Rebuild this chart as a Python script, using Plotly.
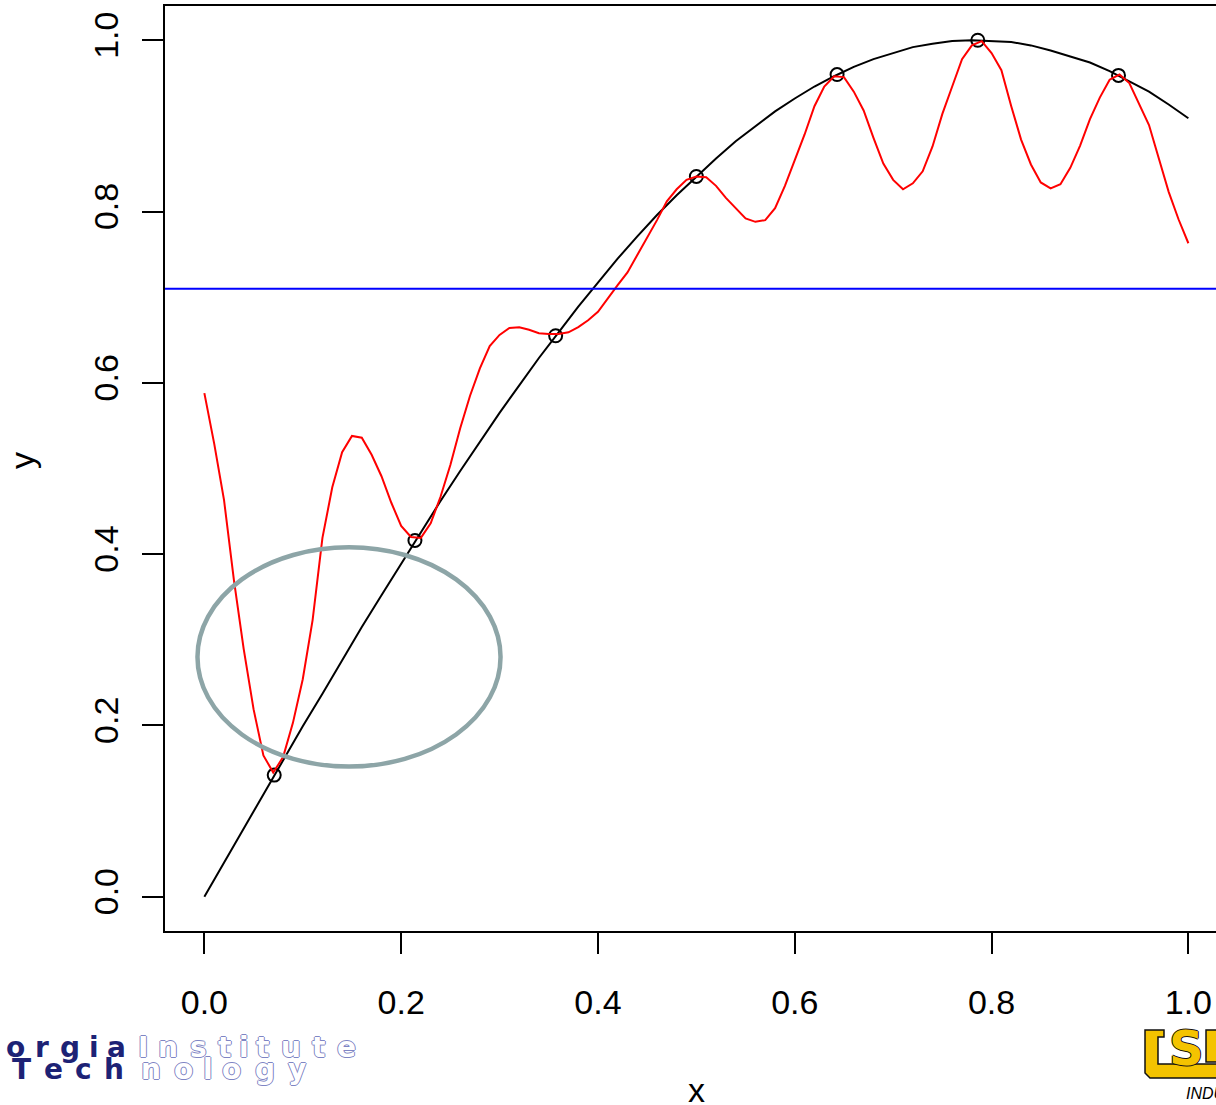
import numpy as np
import plotly.graph_objects as go

# ---- data -------------------------------------------------------------
# true response curve, sampled every 0.02
curve_x = np.round(np.linspace(0, 1, 51), 2)
curve_y = [0.000, 0.040, 0.080, 0.120, 0.159, 0.199, 0.237, 0.276, 0.315, 0.352,
           0.389, 0.426, 0.462, 0.497, 0.531, 0.565, 0.597, 0.629, 0.659, 0.689,
           0.717, 0.745, 0.771, 0.796, 0.819, 0.841, 0.862, 0.882, 0.900, 0.917,
           0.932, 0.946, 0.958, 0.969, 0.978, 0.985, 0.992, 0.996, 0.999, 1.000,
           0.999, 0.998, 0.994, 0.988, 0.981, 0.974, 0.964, 0.952, 0.940, 0.925,
           0.909]

# design points
design_x = [0.071, 0.214, 0.357, 0.500, 0.643, 0.786, 0.929]
design_y = [0.142, 0.416, 0.655, 0.841, 0.960, 1.000, 0.959]

# predictor, evaluated every 0.01
pred_x = np.round(np.linspace(0, 1, 101), 2)
pred_y = [0.588, 0.529, 0.463, 0.370, 0.289, 0.219, 0.165, 0.145, 0.163, 0.203,
          0.254, 0.323, 0.419, 0.478, 0.519, 0.538, 0.536, 0.516, 0.491, 0.460,
          0.433, 0.420, 0.419, 0.436, 0.467, 0.504, 0.547, 0.585, 0.617, 0.643,
          0.656, 0.664, 0.665, 0.662, 0.658, 0.657, 0.657, 0.659, 0.665, 0.673,
          0.683, 0.699, 0.714, 0.729, 0.749, 0.770, 0.790, 0.812, 0.826, 0.837,
          0.841, 0.840, 0.830, 0.816, 0.804, 0.792, 0.788, 0.790, 0.804, 0.830,
          0.860, 0.890, 0.923, 0.946, 0.958, 0.957, 0.940, 0.918, 0.886, 0.856,
          0.837, 0.826, 0.833, 0.847, 0.876, 0.914, 0.946, 0.978, 0.994, 0.999,
          0.985, 0.965, 0.923, 0.884, 0.855, 0.834, 0.827, 0.832, 0.851, 0.877,
          0.908, 0.933, 0.954, 0.960, 0.950, 0.925, 0.901, 0.862, 0.823, 0.791,
          0.763]

# mean level of the design responses
mean_level = 0.710

tick_vals = [0.0, 0.2, 0.4, 0.6, 0.8, 1.0]
tick_text = ["0.0", "0.2", "0.4", "0.6", "0.8", "1.0"]

# ---- figure geometry --------------------------------------------------
W, H = 1216, 1105
ML, MR, MT, MB = 165, 0, 6, 174
PW, PH = W - ML - MR, H - MT - MB


def px_x(px):
    return (px - ML) / PW


def px_y(py):
    return (H - MB - py) / PH


FONT = "Liberation Sans, Arial, Helvetica, sans-serif"

fig = go.Figure()

fig.add_trace(go.Scatter(x=curve_x, y=curve_y, mode="lines",
                         line=dict(color="black", width=2), hoverinfo="skip"))
fig.add_trace(go.Scatter(x=design_x, y=design_y, mode="markers",
                         marker=dict(symbol="circle-open", size=13, color="black",
                                     line=dict(width=2, color="black")),
                         hoverinfo="skip"))
fig.add_trace(go.Scatter(x=pred_x, y=pred_y, mode="lines",
                         line=dict(color="#ff0000", width=2), hoverinfo="skip"))

shapes = [
    dict(type="line", xref="paper", x0=0, x1=1, yref="y", y0=mean_level, y1=mean_level,
         line=dict(color="#0000ff", width=2)),
    dict(type="circle", xref="x", yref="y", x0=-0.007, x1=0.301, y0=0.152, y1=0.408,
         line=dict(color="#8da5a7", width=4.5)),
]

annotations = [
    dict(text="x", xref="x", x=0.5, yref="paper", y=0, yshift=-159,
         xanchor="center", yanchor="middle", showarrow=False,
         font=dict(family=FONT, size=34, color="black")),
    dict(text="y", xref="paper", x=0, xshift=-143, yref="paper", y=px_y(461),
         xanchor="center", yanchor="middle", textangle=-90, showarrow=False,
         font=dict(family=FONT, size=34, color="black")),
]

# ---- institute wordmark (bottom left) -----------------------------------
GLYPH_W = {"G": 0.821, "e": 0.678, "o": 0.687, "r": 0.493, "g": 0.716, "i": 0.343,
           "a": 0.675, "I": 0.372, "n": 0.712, "s": 0.595, "t": 0.478, "u": 0.712,
           "T": 0.682, "c": 0.593, "h": 0.712, "l": 0.343, "y": 0.652}


def spaced_word(word, left, right, cy, size, color, shadow=None):
    total = sum(GLYPH_W[c] for c in word)
    scale = (right - left) / total
    pos = left
    out = []
    for c in word:
        w = GLYPH_W[c] * scale
        f = dict(family="DejaVu Sans", size=size, color=color, weight="bold")
        if shadow:
            f["shadow"] = shadow
        out.append(dict(text=c, xref="paper", yref="paper", x=px_x(pos + w / 2),
                        y=px_y(cy), xanchor="center", yanchor="middle",
                        showarrow=False, font=f))
        pos += w
    return out


NAVY = "#1d2275"
OUT = "#7f85c4"
outline = f"-1px 0 {OUT}, 1px 0 {OUT}, 0 -1px {OUT}, 0 1px {OUT}"
annotations += spaced_word("Georgia", -68, 132, 1047, 28, NAVY)
annotations += spaced_word("Institute", 134, 362, 1047, 28, "white", outline)
annotations += spaced_word("Tech", 5, 131, 1069, 28, NAVY)
annotations += spaced_word("nology", 134, 312, 1069, 28, "white", outline)

# ---- ISU emblem (bottom right) ------------------------------------------
YEL = "#f4c300"


def path(points):
    s = "M " + " L ".join(f"{px_x(x):.5f},{px_y(y):.5f}" for x, y in points)
    return s + " Z"


shapes.append(dict(type="path", xref="paper", yref="paper",
                   path=path([(1145, 1030), (1164, 1030), (1164, 1037), (1158, 1037),
                              (1158, 1064), (1218, 1064), (1218, 1078), (1150, 1078),
                              (1145, 1073)]),
                   fillcolor=YEL, line=dict(color="#111111", width=1.5)))
shapes.append(dict(type="path", xref="paper", yref="paper",
                   path=path([(1206, 1030), (1218, 1030), (1218, 1062), (1206, 1062)]),
                   fillcolor=YEL, line=dict(color="#111111", width=1.5)))
annotations.append(dict(text="S", xref="paper", yref="paper", x=px_x(1186), y=px_y(1048),
                        xanchor="center", yanchor="middle", showarrow=False,
                        font=dict(family="DejaVu Sans", size=48, color=YEL, weight="bold",
                                  shadow="-1px 0 #111, 1px 0 #111, 0 -1px #111, 0 1px #111")))
annotations.append(dict(text="INDUSTRIAL", xref="paper", yref="paper", x=px_x(1184),
                        y=px_y(1093), xanchor="left", yanchor="middle", showarrow=False,
                        font=dict(family=FONT, size=16, color="black", style="italic")))

fig.update_layout(
    width=W, height=H,
    margin=dict(l=ML, r=MR, t=MT, b=MB, autoexpand=False),
    paper_bgcolor="white", plot_bgcolor="white",
    showlegend=False,
    font=dict(family=FONT, color="black"),
    shapes=shapes, annotations=annotations,
    xaxis=dict(range=[-0.04, -0.04 + PW / 984.0], tickmode="array", tickvals=tick_vals,
               ticktext=tick_text, ticks="outside", ticklen=21, tickwidth=2,
               tickcolor="black", showline=True, linecolor="black", linewidth=2,
               mirror=True, showgrid=False, zeroline=False, automargin=False,
               tickfont=dict(family=FONT, size=34, color="black"),
               ticklabelstandoff=19),
    yaxis=dict(range=[-0.04, 1.04], tickmode="array", tickvals=tick_vals,
               ticktext=tick_text, ticks="outside", ticklen=21, tickwidth=2,
               tickcolor="black", showline=True, linecolor="black", linewidth=2,
               mirror=False, showgrid=False, zeroline=False, automargin=False,
               tickangle=-90, tickfont=dict(family=FONT, size=34, color="black"),
               ticklabelstandoff=10),
)

fig.write_html("out.html")
